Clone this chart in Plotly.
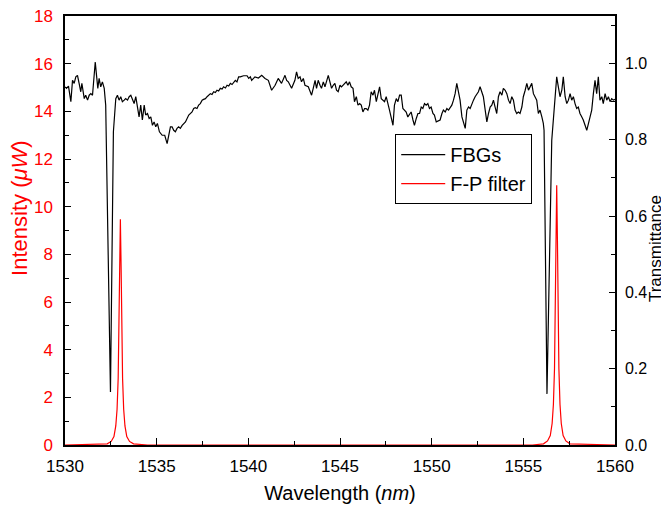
import plotly.graph_objects as go

# FBG transmittance (right axis)
fbg_wl = [1530.01, 1530.08, 1530.19, 1530.32, 1530.41, 1530.50, 1530.59, 1530.68, 1530.77, 1530.86,
          1530.92, 1530.99, 1531.05, 1531.13, 1531.23, 1531.32, 1531.41, 1531.50, 1531.59, 1531.65,
          1531.72, 1531.79, 1531.86, 1531.95, 1532.04, 1532.14, 1532.22, 1532.48, 1532.64, 1532.71,
          1532.77, 1532.86, 1532.95, 1533.04, 1533.13, 1533.23, 1533.31, 1533.41, 1533.50, 1533.59,
          1533.68, 1533.77, 1533.86, 1533.95, 1534.04, 1534.13, 1534.22, 1534.32, 1534.40, 1534.50,
          1534.59, 1534.68, 1534.77, 1534.86, 1534.95, 1535.04, 1535.15, 1535.30, 1535.44, 1535.57,
          1535.66, 1535.75, 1535.84, 1535.93, 1536.02, 1536.11, 1536.20, 1536.29, 1536.39, 1536.47,
          1536.57, 1536.75, 1536.84, 1536.93, 1537.02, 1537.11, 1537.20, 1537.29, 1537.38, 1537.48,
          1537.56, 1537.66, 1537.75, 1537.84, 1537.93, 1538.02, 1538.11, 1538.20, 1538.29, 1538.38,
          1538.47, 1538.57, 1538.65, 1538.75, 1538.84, 1538.93, 1539.02, 1539.11, 1539.20, 1539.29,
          1539.38, 1539.47, 1539.56, 1539.74, 1539.93, 1540.02, 1540.11, 1540.18, 1540.36, 1540.55,
          1540.73, 1540.91, 1541.09, 1541.27, 1541.46, 1541.63, 1541.81, 1542.00, 1542.09, 1542.18,
          1542.36, 1542.54, 1542.63, 1542.72, 1542.82, 1542.90, 1543.00, 1543.09, 1543.27, 1543.45,
          1543.54, 1543.64, 1543.72, 1543.81, 1543.91, 1543.99, 1544.09, 1544.18, 1544.36, 1544.45,
          1544.54, 1544.63, 1544.72, 1544.81, 1544.90, 1545.00, 1545.08, 1545.34, 1545.43, 1545.52,
          1545.61, 1545.71, 1545.79, 1545.89, 1545.98, 1546.07, 1546.16, 1546.25, 1546.34, 1546.43,
          1546.52, 1546.61, 1546.70, 1546.80, 1546.88, 1546.98, 1547.07, 1547.16, 1547.25, 1547.34,
          1547.43, 1547.52, 1547.61, 1547.70, 1547.89, 1547.97, 1548.07, 1548.16, 1548.25, 1548.34,
          1548.43, 1548.52, 1548.61, 1548.70, 1548.79, 1548.88, 1548.98, 1549.06, 1549.16, 1549.25,
          1549.34, 1549.43, 1549.52, 1549.61, 1549.70, 1549.79, 1549.88, 1549.97, 1550.07, 1550.15,
          1550.25, 1550.46, 1550.56, 1550.64, 1550.74, 1550.83, 1550.92, 1551.01, 1551.10, 1551.19,
          1551.28, 1551.37, 1551.46, 1551.55, 1551.65, 1551.73, 1551.83, 1551.92, 1552.01, 1552.10,
          1552.19, 1552.28, 1552.37, 1552.46, 1552.55, 1552.64, 1552.74, 1552.82, 1552.92, 1553.01,
          1553.10, 1553.19, 1553.28, 1553.37, 1553.46, 1553.55, 1553.64, 1553.73, 1553.83, 1553.91,
          1554.01, 1554.10, 1554.19, 1554.28, 1554.37, 1554.46, 1554.55, 1554.64, 1554.73, 1554.82,
          1554.92, 1555.00, 1555.10, 1555.19, 1555.28, 1555.37, 1555.46, 1555.55, 1555.64, 1555.73,
          1555.82, 1555.91, 1556.01, 1556.09, 1556.13, 1556.29, 1556.55, 1556.73, 1556.82, 1556.91,
          1557.00, 1557.10, 1557.18, 1557.28, 1557.37, 1557.46, 1557.55, 1557.64, 1557.73, 1557.82,
          1557.91, 1558.00, 1558.09, 1558.19, 1558.27, 1558.46, 1558.55, 1558.64, 1558.73, 1558.82,
          1558.91, 1559.00, 1559.09, 1559.18, 1559.28, 1559.36, 1559.46, 1559.55, 1559.64, 1559.73,
          1559.82, 1559.91, 1560.00]
fbg_t = [0.939, 0.935, 0.941, 0.900, 0.956, 0.948, 0.965, 0.969, 0.948, 0.926,
         0.948, 0.921, 0.908, 0.917, 0.904, 0.917, 0.921, 0.917, 0.961, 1.004,
         0.969, 0.935, 0.961, 0.939, 0.952, 0.935, 0.891, 0.139, 0.821, 0.873,
         0.908, 0.917, 0.904, 0.913, 0.900, 0.904, 0.908, 0.904, 0.913, 0.917,
         0.904, 0.895, 0.913, 0.891, 0.860, 0.891, 0.852, 0.891, 0.865, 0.869,
         0.856, 0.860, 0.838, 0.847, 0.834, 0.843, 0.821, 0.812, 0.812, 0.790,
         0.812, 0.834, 0.834, 0.825, 0.821, 0.830, 0.834, 0.830, 0.838, 0.843,
         0.847, 0.865, 0.869, 0.873, 0.882, 0.884, 0.882, 0.891, 0.895, 0.904,
         0.906, 0.908, 0.913, 0.917, 0.921, 0.919, 0.926, 0.924, 0.930, 0.928,
         0.935, 0.933, 0.939, 0.936, 0.943, 0.941, 0.948, 0.945, 0.952, 0.956,
         0.952, 0.965, 0.965, 0.968, 0.968, 0.961, 0.965, 0.956, 0.965, 0.962,
         0.969, 0.961, 0.956, 0.930, 0.943, 0.961, 0.948, 0.969, 0.956, 0.952,
         0.935, 0.956, 0.978, 0.961, 0.965, 0.952, 0.961, 0.943, 0.939, 0.917,
         0.935, 0.956, 0.935, 0.956, 0.943, 0.935, 0.952, 0.939, 0.969, 0.952,
         0.935, 0.943, 0.948, 0.930, 0.926, 0.943, 0.939, 0.952, 0.943, 0.952,
         0.939, 0.935, 0.900, 0.913, 0.891, 0.895, 0.891, 0.873, 0.882, 0.882,
         0.878, 0.891, 0.926, 0.917, 0.930, 0.900, 0.917, 0.939, 0.908, 0.904,
         0.900, 0.913, 0.891, 0.878, 0.838, 0.891, 0.908, 0.900, 0.917, 0.917,
         0.882, 0.878, 0.873, 0.860, 0.865, 0.873, 0.852, 0.838, 0.856, 0.869,
         0.869, 0.886, 0.882, 0.895, 0.891, 0.895, 0.882, 0.886, 0.869, 0.865,
         0.847, 0.852, 0.869, 0.878, 0.873, 0.882, 0.878, 0.886, 0.891, 0.904,
         0.921, 0.948, 0.930, 0.904, 0.860, 0.843, 0.830, 0.878, 0.886, 0.882,
         0.895, 0.904, 0.913, 0.921, 0.926, 0.939, 0.921, 0.913, 0.878, 0.847,
         0.869, 0.886, 0.891, 0.904, 0.886, 0.869, 0.913, 0.926, 0.917, 0.935,
         0.930, 0.921, 0.904, 0.895, 0.913, 0.904, 0.878, 0.869, 0.873, 0.869,
         0.886, 0.913, 0.930, 0.948, 0.930, 0.939, 0.948, 0.921, 0.913, 0.904,
         0.869, 0.878, 0.860, 0.843, 0.825, 0.134, 0.799, 0.904, 0.965, 0.939,
         0.913, 0.930, 0.965, 0.913, 0.895, 0.904, 0.921, 0.904, 0.913, 0.895,
         0.882, 0.886, 0.869, 0.860, 0.852, 0.825, 0.843, 0.860, 0.878, 0.921,
         0.956, 0.921, 0.965, 0.904, 0.913, 0.895, 0.921, 0.904, 0.913, 0.900,
         0.908, 0.904, 0.906]

# F-P filter intensity (left axis, uW)
fp_wl = [1530.0, 1532.3, 1532.52, 1532.67, 1532.77, 1532.84, 1532.90, 1532.94, 1532.98, 1533.02,
         1533.06, 1533.10, 1533.14, 1533.20, 1533.27, 1533.37, 1533.52, 1533.74, 1534.5, 1555.5,
         1556.1, 1556.32, 1556.47, 1556.57, 1556.64, 1556.70, 1556.74, 1556.78, 1556.82, 1556.86,
         1556.90, 1556.94, 1557.00, 1557.07, 1557.17, 1557.32, 1557.54, 1560.0]
fp_int = [0.0, 0.05, 0.15, 0.35, 0.8, 1.5, 2.8, 4.7, 7.5, 9.47,
          7.5, 4.7, 2.8, 1.5, 0.8, 0.35, 0.15, 0.05, 0.0, 0.0,
          0.05, 0.17, 0.4, 0.9, 1.7, 3.2, 5.4, 8.6, 10.9, 8.6,
          5.4, 3.2, 1.7, 0.9, 0.4, 0.17, 0.05, 0.0]

x_ticks = [1530, 1535, 1540, 1545, 1550, 1555, 1560]

FONT = "Arial, Liberation Sans, sans-serif"

fig = go.Figure()
fig.add_trace(go.Scatter(x=fbg_wl, y=fbg_t, mode="lines", name="FBGs",
                         line=dict(color="black", width=1.2), yaxis="y2"))
fig.add_trace(go.Scatter(x=fp_wl, y=fp_int, mode="lines", name="F-P filter",
                         line=dict(color="red", width=1.2), yaxis="y"))

# the page body adds an 8px margin, so the figure is 8px smaller on each axis
fig.update_layout(
    width=661, height=500,
    margin=dict(l=56.5, r=54, t=7.7, b=62.7, autoexpand=False),
    paper_bgcolor="white", plot_bgcolor="white",
    font=dict(family=FONT, size=17, color="black"),
    showlegend=True,
    legend=dict(x=0.6004, y=0.7246, xanchor="left", yanchor="top",
                bgcolor="white", bordercolor="black", borderwidth=1,
                font=dict(size=20, color="black"), tracegroupgap=0,
                itemwidth=44),
    xaxis=dict(range=[1530, 1560], tickvals=x_ticks, ticks="inside", ticklen=7,
               tickwidth=1.2, tickcolor="black", showline=True, linecolor="black",
               linewidth=1.5, mirror=True, showgrid=False, zeroline=False, automargin=False,
               minor=dict(dtick=2.5, ticks="inside", ticklen=4, tickcolor="black", tickwidth=1),
               ticklabelstandoff=5, ticklabeloverflow="allow",
               tickfont=dict(size=17, color="black"),
               title=dict(text="Wavelength (<i>nm</i>)", font=dict(size=20, color="black"), standoff=11)),
    yaxis=dict(range=[0, 18], dtick=2, ticks="inside", ticklen=6, tickwidth=1.2,
               tickcolor="black", showline=True, linecolor="black", linewidth=1.5,
               showgrid=False, zeroline=False, automargin=False,
               minor=dict(dtick=1, ticks="inside", ticklen=4, tickcolor="black", tickwidth=1),
               ticklabelstandoff=7, ticklabeloverflow="allow",
               tickfont=dict(size=17, color="red")),
    yaxis2=dict(range=[0, 1.1246], tickvals=[0, 0.2, 0.4, 0.6, 0.8, 1.0], tickformat=".1f",
                overlaying="y", side="right", ticks="inside", ticklen=6, tickwidth=1.2,
                tickcolor="black", showline=True, linecolor="black", linewidth=1.5,
                showgrid=False, zeroline=False, automargin=False,
                minor=dict(tickvals=[0.1, 0.3, 0.5, 0.7, 0.9, 1.1], ticks="inside", ticklen=4,
                           tickcolor="black", tickwidth=1),
                ticklabelstandoff=5, ticklabeloverflow="allow",
                tickfont=dict(size=16, color="black")),
    annotations=[
        dict(text="Intensity (<i>μW</i>)", xref="paper", yref="paper", x=-0.083, y=0.5535,
             xanchor="center", yanchor="middle", textangle=-90, showarrow=False,
             font=dict(size=22, color="red", family=FONT)),
        dict(text="Transmittance", xref="paper", yref="paper", x=1.0727, y=0.459,
             xanchor="center", yanchor="middle", textangle=-90, showarrow=False,
             font=dict(size=17, color="black", family=FONT)),
    ],
)

fig.write_html("out.html")
